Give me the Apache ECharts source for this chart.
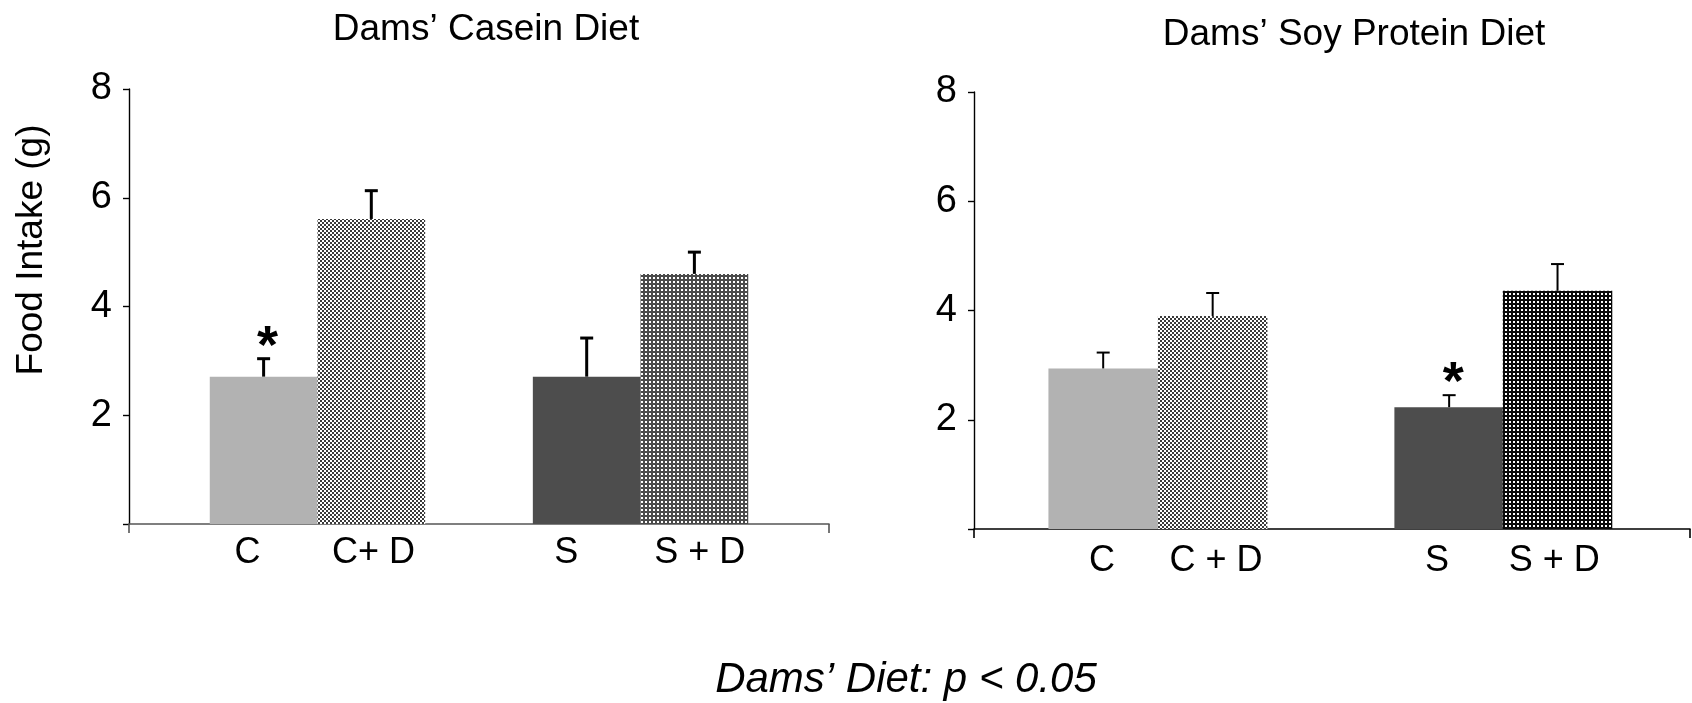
<!DOCTYPE html>
<html>
<head>
<meta charset="utf-8">
<script src="https://cdn.jsdelivr.net/npm/echarts@6/dist/echarts.min.js"></script>
<style>
html,body{margin:0;padding:0;background:#fff;}
#chart{width:1692px;height:703px;}
</style>
</head>
<body>
<div id="chart"></div>
<script>
// ---- data ----
const caseinCategories = ['C', 'C+ D', 'S', 'S + D'];
const soyCategories = ['C', 'C + D', 'S', 'S + D'];
const caseinMeans = [2.71, 5.61, 2.71, 4.60];
const caseinSEM = [0.33, 0.52, 0.71, 0.40];
const soyMeans = [2.94, 3.90, 2.23, 4.36];
const soySEM = [0.29, 0.42, 0.22, 0.49];
const caseinStars = [true, false, false, false];
const soyStars = [false, false, true, false];
const yTicks = [0, 2, 4, 6, 8];
const titles = ['Dams\u2019 Casein Diet', 'Dams\u2019 Soy Protein Diet'];
const yAxisTitle = 'Food Intake (g)';
const footnote = 'Dams\u2019 Diet: p < 0.05';

// ---- layout (positions along a 0..max x-axis, in bar widths) ----
const layout = [
  {grid: {left: 129, top: 89, width: 700, height: 435}, xMax: 6.5,
   barPos: [1.25, 2.25, 4.25, 5.25], labelPos: [1.10, 2.27, 4.06, 5.30],
   barWidth: 107.7, errWidth: 3, axisColor: '#555', labelMargin: 11},
  {grid: {left: 974, top: 92, width: 716, height: 437}, xMax: 6.54,
   barPos: [1.18, 2.18, 4.34, 5.33], labelPos: [1.17, 2.21, 4.23, 5.30],
   barWidth: 109.5, errWidth: 2, axisColor: '#000', labelMargin: 14}
];

const FONT = '"Liberation Sans", Arial, Helvetica, sans-serif';

function makeTile(size, draw) {
  const c = document.createElement('canvas');
  c.width = size; c.height = size;
  const ctx = c.getContext('2d');
  draw(ctx);
  return {image: c, repeat: 'repeat'};
}
const checker = makeTile(4, ctx => {
  ctx.fillStyle = '#fff'; ctx.fillRect(0, 0, 4, 4);
  ctx.fillStyle = '#3a3a3a'; ctx.fillRect(0, 0, 2, 2); ctx.fillRect(2, 2, 2, 2);
});
const dotsGray = makeTile(4, ctx => {
  ctx.fillStyle = '#4a4a4a'; ctx.fillRect(0, 0, 4, 4);
  ctx.fillStyle = '#fff'; ctx.fillRect(1, 1, 2, 2);
});
const dotsBlack = makeTile(4, ctx => {
  ctx.fillStyle = '#0a0a0a'; ctx.fillRect(0, 0, 4, 4);
  ctx.fillStyle = '#fff'; ctx.fillRect(1, 1, 2, 2);
});
const fills = [
  ['#b2b2b2', checker, '#4d4d4d', dotsGray],
  ['#b2b2b2', checker, '#4d4d4d', dotsBlack]
];

const panels = [
  {cats: caseinCategories, means: caseinMeans, sem: caseinSEM, stars: caseinStars},
  {cats: soyCategories, means: soyMeans, sem: soySEM, stars: soyStars}
];

const grids = [], xAxes = [], yAxes = [], series = [];
panels.forEach((p, i) => {
  const L = layout[i];
  grids.push(Object.assign({containLabel: false, outerBoundsMode: 'none'}, L.grid));
  xAxes.push({
    type: 'value', gridIndex: i, min: 0, max: L.xMax,
    splitLine: {show: false},
    axisLine: {show: true, lineStyle: {color: L.axisColor, width: 1.6}},
    axisTick: {show: true, customValues: [0, L.xMax], length: 9, lineStyle: {color: L.axisColor, width: 1.6}},
    axisLabel: {
      show: true, customValues: L.labelPos, margin: L.labelMargin,
      fontFamily: FONT, fontSize: 36, color: '#000',
      formatter: v => {
        let best = 0;
        L.labelPos.forEach((lp, k) => { if (Math.abs(lp - v) < Math.abs(L.labelPos[best] - v)) best = k; });
        return p.cats[best];
      }
    }
  });
  yAxes.push({
    type: 'value', gridIndex: i, min: yTicks[0], max: yTicks[yTicks.length - 1], interval: 2,
    splitLine: {show: false},
    axisLine: {show: true, lineStyle: {color: '#000', width: 1.4}},
    axisTick: {show: true, length: 6, lineStyle: {color: '#000', width: 1.4}},
    axisLabel: {fontFamily: FONT, fontSize: 38, color: '#000', margin: 17,
      formatter: v => (v === 0 ? '' : String(v))}
  });
  series.push({
    type: 'bar', xAxisIndex: i, yAxisIndex: i,
    barWidth: L.barWidth,
    data: p.means.map((m, k) => ({value: [L.barPos[k], m], itemStyle: {color: fills[i][k]}})),
    z: 2
  });
  series.push({
    type: 'custom', xAxisIndex: i, yAxisIndex: i, z: 5,
    data: p.means.map((m, k) => [L.barPos[k], m, p.sem[k], p.stars[k] ? 1 : 0]),
    renderItem: (params, api) => {
      const x = api.value(0), m = api.value(1), s = api.value(2), star = api.value(3);
      const base = api.coord([x, m]);
      const top = api.coord([x, m + s]);
      const st = {stroke: '#000', lineWidth: L.errWidth};
      const children = [
        {type: 'line', shape: {x1: top[0], y1: base[1], x2: top[0], y2: top[1]}, style: st},
        {type: 'line', shape: {x1: top[0] - 6.5, y1: top[1], x2: top[0] + 6.5, y2: top[1]}, style: st}
      ];
      if (star) {
        children.push({type: 'text', x: top[0] + 4, y: top[1] + 16,
          style: {text: '*', fontFamily: FONT, fontSize: 54, fontWeight: 'bold', fill: '#000',
            align: 'center', verticalAlign: 'bottom'}});
      }
      return {type: 'group', children};
    }
  });
});

const chart = echarts.init(document.getElementById('chart'), null, {renderer: 'canvas'});
chart.setOption({
  backgroundColor: '#fff',
  animation: false,
  title: [
    {text: titles[0], left: 481, top: 6, textAlign: 'center',
     textStyle: {fontFamily: FONT, fontSize: 37, fontWeight: 'normal', color: '#000'}},
    {text: titles[1], left: 1349, top: 11, textAlign: 'center',
     textStyle: {fontFamily: FONT, fontSize: 37, fontWeight: 'normal', color: '#000'}},
    {text: footnote, left: 901, top: 654, textAlign: 'center',
     textStyle: {fontFamily: FONT, fontSize: 42, fontWeight: 'normal', fontStyle: 'italic', color: '#000'}}
  ],
  graphic: [{
    type: 'text', x: 32, y: 250, rotation: Math.PI / 2,
    style: {text: yAxisTitle, fontFamily: FONT, fontSize: 37, fill: '#000',
      align: 'center', verticalAlign: 'middle'}
  }],
  grid: grids, xAxis: xAxes, yAxis: yAxes, series
});
</script>
</body>
</html>
